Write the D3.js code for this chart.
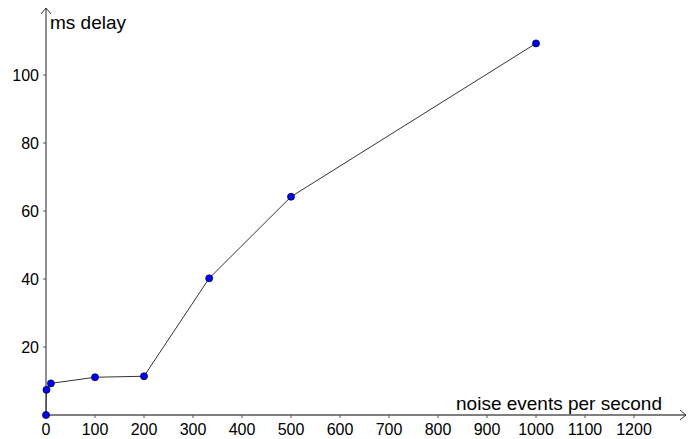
<!DOCTYPE html>
<html>
<head>
<meta charset="utf-8">
<script src="https://cdn.jsdelivr.net/npm/d3@7"></script>
<style>
  body { margin: 0; background: #fff; }
  text { font-family: "Liberation Sans", Arial, sans-serif; fill: #000; }
</style>
</head>
<body>
<svg id="chart"></svg>
<script>
// noise events per second vs delay
const xValues = [0, 1, 10, 100, 200, 333, 500, 1000];
const yValues = [0, 7.4, 9.3, 11.1, 11.4, 40.2, 64.2, 109.3];
const xTicks = [0, 100, 200, 300, 400, 500, 600, 700, 800, 900, 1000, 1100, 1200];
const yTicks = [20, 40, 60, 80, 100];

const w = 692, h = 439;
const svg = d3.select('#chart').attr('width', w).attr('height', h);

// origin at (46,415)
const x = d3.scaleLinear().domain([0, 1000]).range([46, 536]);
const y = d3.scaleLinear().domain([0, 100]).range([415, 75]);

const axisColor = '#555';

// x axis
svg.append('line')
    .attr('x1', x(0)).attr('x2', 686)
    .attr('y1', y(0)).attr('y2', y(0))
    .attr('stroke', axisColor).attr('stroke-width', 1.3);
svg.append('path')
    .attr('d', `M680,${y(0) - 5}L686,${y(0)}L680,${y(0) + 5}`)
    .attr('fill', 'none').attr('stroke', '#333').attr('stroke-width', 1);

svg.selectAll('.xtick')
    .data(xTicks)
    .join('line')
    .attr('x1', d => x(d)).attr('x2', d => x(d))
    .attr('y1', y(0)).attr('y2', y(0) + 3)
    .attr('stroke', axisColor);
svg.selectAll('.xlab')
    .data(xTicks)
    .join('text')
    .text(d => d)
    .attr('x', d => x(d))
    .attr('y', 435)
    .attr('font-size', 16)
    .style('text-anchor', 'middle');

// y axis
svg.append('line')
    .attr('x1', x(0)).attr('x2', x(0))
    .attr('y1', y(0)).attr('y2', 8)
    .attr('stroke', axisColor).attr('stroke-width', 1.3);
svg.append('path')
    .attr('d', `M${x(0) - 5},14L${x(0)},8L${x(0) + 5},14`)
    .attr('fill', 'none').attr('stroke', '#333').attr('stroke-width', 1);

svg.selectAll('.ytick')
    .data(yTicks)
    .join('line')
    .attr('x1', x(0) - 3).attr('x2', x(0))
    .attr('y1', d => y(d)).attr('y2', d => y(d))
    .attr('stroke', axisColor);
svg.selectAll('.ylab')
    .data(yTicks)
    .join('text')
    .text(d => d)
    .attr('x', 39)
    .attr('y', d => y(d) + 6)
    .attr('font-size', 16)
    .style('text-anchor', 'end');

// axis labels
svg.append('text').text('ms delay')
    .attr('x', 50).attr('y', 29).attr('font-size', 19);
svg.append('text').text('noise events per second')
    .attr('x', 662).attr('y', 410).attr('font-size', 19)
    .style('text-anchor', 'end');

// data line + points
const pts = xValues.map((v, i) => [v, yValues[i]]);
svg.append('path')
    .datum(pts)
    .attr('d', d3.line().x(d => x(d[0])).y(d => y(d[1])))
    .attr('fill', 'none').attr('stroke', '#333').attr('stroke-width', 1);

svg.selectAll('.pt')
    .data(pts)
    .join('circle')
    .attr('cx', d => x(d[0]))
    .attr('cy', d => y(d[1]))
    .attr('r', 3.5)
    .attr('fill', '#0000ff')
    .attr('stroke', '#000033')
    .attr('stroke-width', 0.8);
</script>
</body>
</html>
